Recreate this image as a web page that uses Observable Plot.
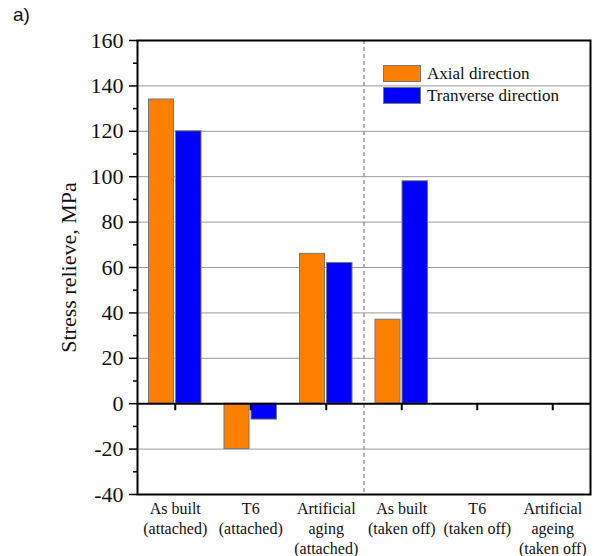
<!DOCTYPE html>
<html>
<head>
<meta charset="utf-8">
<script src="https://cdn.jsdelivr.net/npm/d3@7"></script>
<script src="https://cdn.jsdelivr.net/npm/@observablehq/plot@0.6"></script>
<style>
  html, body { margin: 0; padding: 0; background: white; }
  #wrap { position: relative; width: 600px; height: 556px; }
  #tag { position: absolute; left: 13px; top: 4px; font-family: "Liberation Sans", sans-serif; font-size: 19px; color: #111; }
  #legend { position: absolute; left: 383px; top: 65px; font-family: "Liberation Serif", serif; font-size: 17px; color: #111; }
  .item { display: flex; align-items: center; height: 17px; margin-bottom: 5px; }
  .sw { width: 36px; height: 15px; border: 1px solid #777; margin-right: 6px; }
</style>
</head>
<body>
<div id="wrap">
  <div id="chart"></div>
  <div id="tag">a)</div>
  <div id="legend"></div>
</div>
<script>
const categories = [
  "As built\n(attached)",
  "T6\n(attached)",
  "Artificial\naging\n(attached)",
  "As built\n(taken off)",
  "T6\n(taken off)",
  "Artificial\nageing\n(taken off)"
];
const seriesNames = ["Axial direction", "Tranverse direction"];
const seriesColors = ["#FF8000", "#0000FF"];
const axial = [134, -20, 66, 37, null, null];
const transverse = [120, -7, 62, 98, null, null];
const yTicks = [-40, -20, 0, 20, 40, 60, 80, 100, 120, 140, 160];
const yMinorTicks = [-30, -10, 10, 30, 50, 70, 90, 110, 130, 150];
const gridValues = [-20, 20, 40, 60, 80, 100, 120, 140];
const yLabel = "Stress relieve, MPa";

const axialRows = categories.map((c, i) => ({cat: c, v: axial[i]})).filter(d => d.v != null);
const transRows = categories.map((c, i) => ({cat: c, v: transverse[i]})).filter(d => d.v != null);

const W = 600, H = 556, ML = 137, MR = 10, MT = 40, MB = 62;
const step = (W - ML - MR) / categories.length;

const chart = Plot.plot({
  width: W, height: H,
  marginLeft: ML, marginRight: MR, marginTop: MT, marginBottom: MB,
  x: {domain: categories, padding: 0, round: false, axis: null},
  y: {domain: [-40, 160], axis: null},
  style: {fontFamily: "Liberation Serif, serif", background: "white", color: "#111"},
  marks: [
    Plot.ruleY(gridValues, {stroke: "#999", strokeWidth: 1}),
    Plot.barY(axialRows, {x: "cat", y: "v", fill: seriesColors[0], stroke: "#777", strokeWidth: 1, insetLeft: 11.5, insetRight: 39}),
    Plot.barY(transRows, {x: "cat", y: "v", fill: seriesColors[1], stroke: "#777", strokeWidth: 1, insetLeft: 38.5, insetRight: 11.5}),
    Plot.ruleX([categories[3]], {x: d => d, dx: -step / 2, stroke: "#999", strokeWidth: 1.5, strokeDasharray: "4,3"}),
    Plot.ruleY([0], {stroke: "black", strokeWidth: 2}),
    Plot.ruleX(categories, {x: d => d, y1: d => 0, y2: d => 0, insetBottom: -7, stroke: "black", strokeWidth: 2}),
    Plot.axisY({ticks: yTicks, tickSize: 8, tickPadding: 6, fontSize: 22, tickFormat: d => String(d), label: null, stroke: "black", strokeWidth: 1.5}),
    Plot.axisY({ticks: yMinorTicks, tickSize: 4, tickFormat: () => "", label: null, stroke: "black", strokeWidth: 1.5}),
    Plot.text(categories, {x: d => d, text: d => d, frameAnchor: "bottom", lineAnchor: "top", dy: 5, fontSize: 16, lineHeight: 1.25, fill: "#111"}),
    Plot.text([yLabel], {text: d => d, frameAnchor: "left", textAnchor: "middle", rotate: -90, dx: -69, fontSize: 22, fill: "#111"}),
    Plot.frame({stroke: "black", strokeWidth: 2})
  ]
});
document.getElementById("chart").appendChild(chart);

const legend = document.getElementById("legend");
seriesNames.forEach((name, i) => {
  const item = document.createElement("div");
  item.className = "item";
  const sw = document.createElement("div");
  sw.className = "sw";
  sw.style.background = seriesColors[i];
  const t = document.createElement("span");
  t.textContent = name;
  item.appendChild(sw);
  item.appendChild(t);
  legend.appendChild(item);
});
</script>
</body>
</html>
